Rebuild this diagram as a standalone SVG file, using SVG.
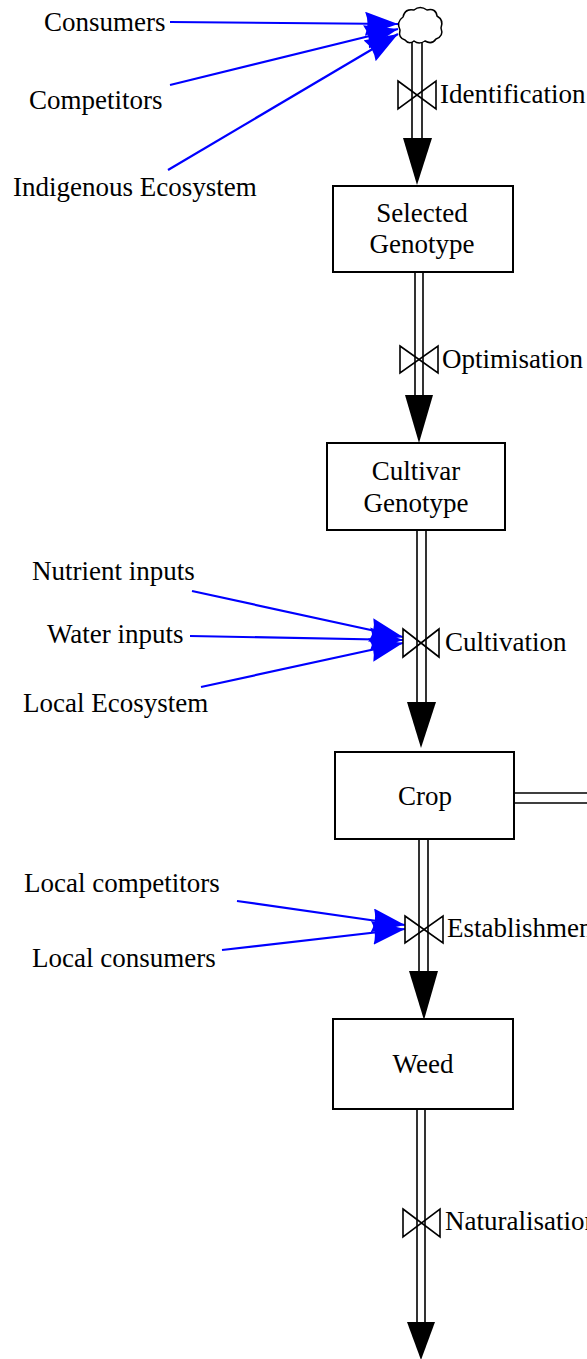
<svg xmlns="http://www.w3.org/2000/svg" width="587" height="1359" viewBox="0 0 587 1359">
<defs>
<style>
text{font-family:"Liberation Serif","Times New Roman","DejaVu Serif",serif;font-size:27px;fill:#000}
.box{fill:#fff;stroke:#000;stroke-width:2}
.pipe{stroke:#000;stroke-width:1.6;fill:none}
.valve{fill:none;stroke:#000;stroke-width:1.6}
.head{fill:#000}
.link{stroke:#0000ff;stroke-width:2.2;fill:none;marker-end:url(#blue)}
.mid{text-anchor:middle}
</style>
<marker id="blue" markerUnits="userSpaceOnUse" markerWidth="36" markerHeight="26" refX="33" refY="12" orient="auto">
<path d="M0,0 Q5,12 0,24 L33,12 Z" fill="#0000ff"/>
</marker>
</defs>
<rect width="587" height="1359" fill="#fff"/>

<g id="connectors">
<path class="link" d="M170,22 L398,24"/>
<path class="link" d="M170,85 L398,29"/>
<path class="link" d="M168,170 L398,34"/>
<path class="link" d="M192,591 L403,637"/>
<path class="link" d="M190,636 L403,640"/>
<path class="link" d="M201,687 L403,643"/>
<path class="link" d="M237,901 L405,925"/>
<path class="link" d="M222,950 L405,929"/>
<path class="pipe" d="M412,42 V139 M422,42 V139"/>
<path class="pipe" d="M415,272 V396 M423,272 V396"/>
<path class="pipe" d="M417,530 V703 M426,530 V703"/>
<path class="pipe" d="M419,839 V972 M428,839 V972"/>
<path class="pipe" d="M417,1109 V1323 M425,1109 V1323"/>
<path class="pipe" d="M514,793 H587 M514,803 H587"/>
<path class="head" d="M403,138 L432,138 L417,185 Z"/>
<path class="head" d="M405,395 L433,395 L419,443 Z"/>
<path class="head" d="M407,702 L436,702 L421,748 Z"/>
<path class="head" d="M409,971 L438,971 L424,1020 Z"/>
<path class="head" d="M407,1322 L435,1322 L421,1360 Z"/>
</g>

<g id="source">
<path d="M405,40 Q398,38 400,30 Q396,22 403,17 Q405,8 414,10 Q420,5 427,10 Q436,8 437,16 Q444,20 441,28 Q444,36 436,39 Q432,45 425,41 Q419,45 414,41 Q409,45 405,40 Z" fill="#fff" stroke="#000" stroke-width="1.5"/>
</g>

<g id="identification">
<path class="valve" d="M398,81 L436,109 L436,81 L398,109 Z"/>
<text x="440" y="103">Identification</text>
</g>
<g id="selected-genotype">
<rect class="box" x="333" y="186" width="180" height="86"/>
<text class="mid" x="422" y="222">Selected</text>
<text class="mid" x="422" y="253">Genotype</text>
</g>
<g id="optimisation">
<path class="valve" d="M400,346 L438,373 L438,346 L400,373 Z"/>
<text x="442" y="368">Optimisation</text>
</g>
<g id="cultivar-genotype">
<rect class="box" x="327" y="443" width="178" height="87"/>
<text class="mid" x="416" y="480">Cultivar</text>
<text class="mid" x="416" y="512">Genotype</text>
</g>
<g id="cultivation">
<path class="valve" d="M403,629 L439,657 L439,629 L403,657 Z"/>
<text x="445" y="651">Cultivation</text>
</g>
<g id="crop">
<rect class="box" x="335" y="752" width="179" height="87"/>
<text class="mid" x="425" y="805">Crop</text>
</g>
<g id="establishment">
<path class="valve" d="M405,916 L443,943 L443,916 L405,943 Z"/>
<text x="447" y="937">Establishment</text>
</g>
<g id="weed">
<rect class="box" x="333" y="1019" width="180" height="90"/>
<text class="mid" x="423" y="1073">Weed</text>
</g>
<g id="naturalisation">
<path class="valve" d="M403,1209 L440,1237 L440,1209 L403,1237 Z"/>
<text x="445" y="1230">Naturalisation</text>
</g>

<g id="consumers"><text x="44" y="31">Consumers</text></g>
<g id="competitors"><text x="29" y="109">Competitors</text></g>
<g id="indigenous-ecosystem"><text x="13" y="196">Indigenous Ecosystem</text></g>
<g id="nutrient-inputs"><text x="32" y="580">Nutrient inputs</text></g>
<g id="water-inputs"><text x="47" y="643">Water inputs</text></g>
<g id="local-ecosystem"><text x="23" y="712">Local Ecosystem</text></g>
<g id="local-competitors"><text x="24" y="892">Local competitors</text></g>
<g id="local-consumers"><text x="32" y="967">Local consumers</text></g>
</svg>
